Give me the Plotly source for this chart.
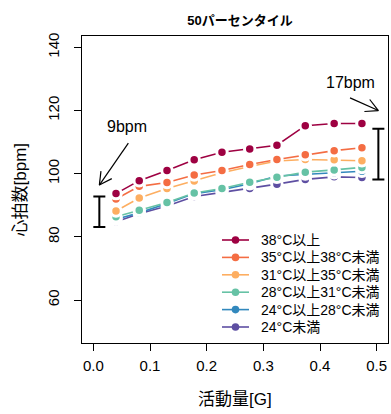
import numpy as np
import plotly.graph_objects as go

# ---------------- data ----------------
activity = [0.040, 0.081, 0.130, 0.178, 0.227, 0.276, 0.324, 0.374, 0.425, 0.474]

hr_38_plus = [93.7, 97.8, 101.0, 104.4, 106.8, 107.8, 109.0, 115.2, 115.9, 115.9]
hr_35_38 = [92.0, 96.0, 97.2, 99.6, 101.0, 102.9, 104.5, 106.0, 107.3, 108.2]
hr_31_35 = [88.2, 92.3, 95.3, 97.7, 100.3, 102.3, 104.0, 104.5, 104.4, 104.1]
hr_28_31 = [86.4, 88.4, 90.9, 93.9, 95.3, 97.3, 98.9, 100.5, 101.2, 102.0]
hr_24_28 = [85.6, 87.6, 90.6, 93.7, 94.9, 96.8, 99.3, 99.9, 100.3, 100.8]
hr_24_under = [84.8, 87.3, 89.8, 92.8, 94.1, 95.3, 96.7, 98.2, 99.0, 98.8]

series_names = ["38°C以上", "35°C以上38°C未満", "31°C以上35°C未満",
                "28°C以上31°C未満", "24°C以上28°C未満", "24°C未満"]
series_values = [hr_38_plus, hr_35_38, hr_31_35, hr_28_31, hr_24_28, hr_24_under]
series_colors = ["#9E0142", "#F46D43", "#FDAE61", "#66C2A5", "#3288BD", "#5E4FA2"]

x_ticks = [0.0, 0.1, 0.2, 0.3, 0.4, 0.5]
x_tick_labels = ["0.0", "0.1", "0.2", "0.3", "0.4", "0.5"]
y_ticks = [60, 80, 100, 120, 140]
y_tick_labels = ["60", "80", "100", "120", "140"]

bracket_x = [0.0106, 0.503]
bracket_low = [83.1, 98.2]
bracket_high = [92.8, 114.2]

label_text = ["9bpm", "17bpm"]
label_x = [0.059, 0.453]
label_y = [115.0, 128.9]
arrow_tail_x = [0.0618, 0.453]
arrow_tail_y = [109.7, 124.0]
arrow_tip_x = [0.0106, 0.503]
arrow_tip_y = [96.4, 120.0]

# ---------------- layout constants ----------------
W, H = 391, 414
M_L, M_R, M_T, M_B = 82, 3, 36, 71
X_RANGE = [-0.02, 0.52]
Y_RANGE = [46.4, 143.6]
FONT = "Liberation Sans, Arial, Noto Sans CJK JP, sans-serif"

PW = W - M_L - M_R
PH = H - M_T - M_B
sx = PW / (X_RANGE[1] - X_RANGE[0])
sy = PH / (Y_RANGE[1] - Y_RANGE[0])


def px_x(p):  # pixel column -> paper x
    return (p - M_L) / PW


def px_y(p):  # pixel row -> paper y
    return (H - M_B - p) / PH


fig = go.Figure()

# series drawn in reverse so that warmest is on top
for name, vals, col in reversed(list(zip(series_names, series_values, series_colors))):
    fig.add_trace(go.Scatter(
        x=activity, y=vals, name=name, mode="lines+markers", showlegend=False,
        line=dict(color=col, width=1.6),
        marker=dict(color=col, size=10.5, line=dict(color="white", width=3)),
    ))

# brackets (range bars)
b_center = [(lo + hi) / 2 for lo, hi in zip(bracket_low, bracket_high)]
b_half = [(hi - lo) / 2 for lo, hi in zip(bracket_low, bracket_high)]
fig.add_trace(go.Scatter(
    x=bracket_x, y=b_center, mode="markers", showlegend=False,
    marker=dict(size=1, opacity=0), cliponaxis=False,
    error_y=dict(type="data", array=b_half, symmetric=True,
                 color="black", thickness=2, width=6),
    hoverinfo="skip",
))

# arrows (shaft + open V head)
ax, ay = [], []
L = 14.0
ang = np.deg2rad(28)
for tx, ty, hx, hy in zip(arrow_tail_x, arrow_tail_y, arrow_tip_x, arrow_tip_y):
    dx = (hx - tx) * sx
    dy = (hy - ty) * sy
    n = np.hypot(dx, dy)
    ux, uy = -dx / n, -dy / n
    ax += [tx, hx, None]
    ay += [ty, hy, None]
    for a in (ang, -ang):
        rx = ux * np.cos(a) - uy * np.sin(a)
        ry = ux * np.sin(a) + uy * np.cos(a)
        ax += [hx + rx * L / sx, hx, None]
        ay += [hy + ry * L / sy, hy, None]
fig.add_trace(go.Scatter(x=ax, y=ay, mode="lines", showlegend=False,
                         cliponaxis=False,
                         line=dict(color="black", width=1.2), hoverinfo="skip"))

for t, x, y in zip(label_text, label_x, label_y):
    fig.add_annotation(x=x, y=y, text=t, showarrow=False,
                       font=dict(family=FONT, size=16, color="black"))

# legend (drawn manually to match the compact row spacing)
LEG_ROW0, LEG_DY = 240, 17.4
LEG_X0, LEG_X1, LEG_XM, LEG_TX = 222, 249, 235.5, 259
for i, (name, col) in enumerate(zip(series_names, series_colors)):
    yy = px_y(LEG_ROW0 + i * LEG_DY)
    fig.add_shape(type="line", xref="paper", yref="paper",
                  x0=px_x(LEG_X0), x1=px_x(LEG_X1), y0=yy, y1=yy,
                  line=dict(color=col, width=1.6))
    fig.add_shape(type="circle", xref="paper", yref="paper",
                  xsizemode="pixel", ysizemode="pixel",
                  xanchor=px_x(LEG_XM), yanchor=yy,
                  x0=-3.8, x1=3.8, y0=-3.8, y1=3.8,
                  fillcolor=col, line=dict(color=col, width=0))
    fig.add_annotation(xref="paper", yref="paper", x=px_x(LEG_TX), y=yy,
                       text=name, showarrow=False, xanchor="left",
                       yanchor="middle",
                       font=dict(family=FONT, size=14, color="black"))

# axis titles placed in the margins
fig.add_annotation(xref="paper", yref="paper", x=px_x(235), y=px_y(399),
                   text="活動量[G]", showarrow=False, xanchor="center",
                   yanchor="middle",
                   font=dict(family=FONT, size=17, color="black"))
fig.add_annotation(xref="paper", yref="paper", x=px_x(20),
                   y=0.5, text="心拍数[bpm]", showarrow=False, textangle=-90,
                   xanchor="center", yanchor="middle",
                   font=dict(family=FONT, size=17, color="black"))

axis_common = dict(
    showgrid=False, zeroline=False, showline=True, mirror=True,
    linecolor="black", linewidth=1, ticks="outside", ticklen=7,
    tickcolor="black", tickwidth=1, automargin=False,
    tickfont=dict(family=FONT, size=15, color="black"),
)

fig.update_layout(
    width=W, height=H,
    margin=dict(l=M_L, r=M_R, t=M_T, b=M_B, autoexpand=False),
    paper_bgcolor="white", plot_bgcolor="white",
    font=dict(family=FONT, color="black"),
    title=dict(text="<b>50パーセンタイル</b>", x=240 / W, xanchor="center",
               y=1 - 20 / H, yanchor="middle",
               font=dict(family=FONT, size=13, color="black")),
    xaxis=dict(range=X_RANGE, tickvals=x_ticks, ticktext=x_tick_labels,
               ticklabelstandoff=2, **axis_common),
    yaxis=dict(range=Y_RANGE, tickvals=y_ticks, ticktext=y_tick_labels,
               tickangle=-90, ticklabelstandoff=9, **axis_common),
    showlegend=False,
)

fig.write_html("out.html", config={"displayModeBar": False},
               post_script="document.body.style.margin='0';"
                           "document.body.style.overflow='hidden';")
